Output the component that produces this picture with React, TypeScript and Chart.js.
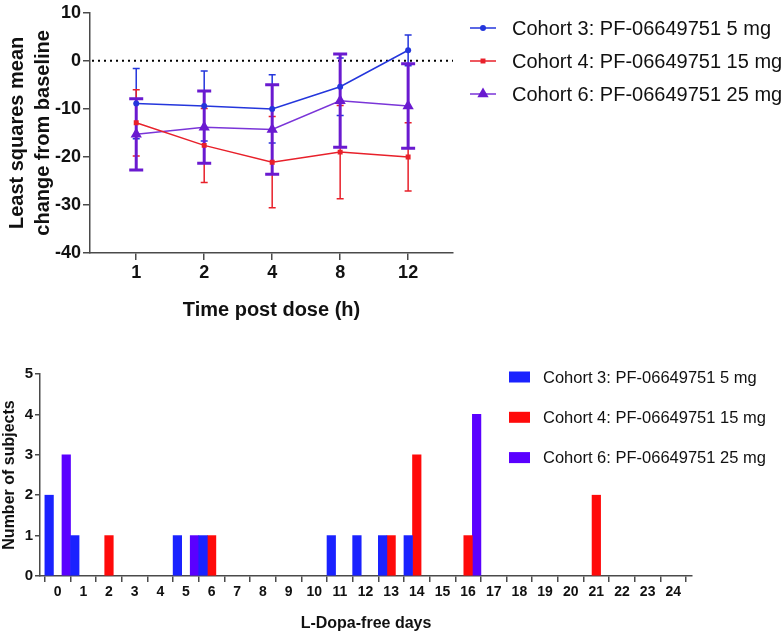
import React, { useEffect, useRef } from 'react';
import { Chart, registerables } from 'chart.js';

Chart.register(...registerables);

const FONT = '"Liberation Sans", Arial, Helvetica, sans-serif';

// ---------- Top chart data ----------
const timeLabels = ['1', '2', '4', '8', '12'];
const cohortNames = [
  'Cohort 3: PF-06649751 5 mg',
  'Cohort 4: PF-06649751 15 mg',
  'Cohort 6: PF-06649751 25 mg',
];
const cohort3Mean = [-8.9, -9.4, -10.0, -5.4, 2.2];
const cohort3Err = [7.3, 7.3, 7.1, 6.0, 3.2];
const cohort4Mean = [-12.9, -17.6, -21.1, -19.0, -20.0];
const cohort4Err = [6.9, 7.7, 9.5, 9.7, 7.1];
const cohort6Mean = [-15.3, -13.8, -14.3, -8.3, -9.4];
const cohort6Err = [7.4, 7.5, 9.3, 9.7, 8.8];
const topYTicks = [10, 0, -10, -20, -30, -40];

// ---------- Bottom chart data ----------
const dayTicks = [0, 1, 2, 3, 4, 5, 6, 7, 8, 9, 10, 11, 12, 13, 14, 15, 16, 17, 18, 19, 20, 21, 22, 23, 24];
const cohort3Days = [0, 1, 5, 6, 11, 12, 13, 14];
const cohort3Counts = [2, 1, 1, 1, 1, 1, 1, 1];
const cohort4Days = [2, 6, 13, 14, 16, 21];
const cohort4Counts = [1, 1, 1, 3, 1, 2];
const cohort6Days = [0, 5, 16];
const cohort6Counts = [3, 1, 4];
const bottomYTicks = [0, 1, 2, 3, 4, 5];

const TOP_COLORS = { c3: '#2436dc', c4: '#e8202a', c6: '#6a1ad0', c6line: '#7a35d8' };
const BAR_COLORS = { c3: '#1a22ff', c4: '#ff0a0a', c6: '#5a00ff' };

function drawMarker(ctx: CanvasRenderingContext2D, style: string, x: number, y: number, r: number, color: string) {
  ctx.save();
  ctx.fillStyle = color;
  ctx.beginPath();
  if (style === 'circle') {
    ctx.arc(x, y, r, 0, Math.PI * 2);
  } else if (style === 'rect') {
    const s = r * Math.SQRT1_2;
    ctx.rect(x - s, y - s, 2 * s, 2 * s);
  } else {
    let rad = 0;
    const step = (Math.PI * 2) / 3;
    ctx.moveTo(x + Math.sin(rad) * r, y - Math.cos(rad) * r);
    rad += step;
    ctx.lineTo(x + Math.sin(rad) * r, y - Math.cos(rad) * r);
    rad += step;
    ctx.lineTo(x + Math.sin(rad) * r, y - Math.cos(rad) * r);
    ctx.closePath();
  }
  ctx.fill();
  ctx.restore();
}

const errorSpecs = [
  { mean: cohort3Mean, err: cohort3Err, color: TOP_COLORS.c3, lw: 1.5, cap: 3.5 },
  { mean: cohort4Mean, err: cohort4Err, color: TOP_COLORS.c4, lw: 1.5, cap: 3.5 },
  { mean: cohort6Mean, err: cohort6Err, color: TOP_COLORS.c6, lw: 3, cap: 7 },
];

const topPlugin = {
  id: 'topDecor',
  beforeDatasetsDraw(chart: any) {
    const { ctx, chartArea, scales } = chart;
    const x = scales.x;
    const y = scales.y;
    // dotted zero line
    ctx.save();
    ctx.strokeStyle = '#000';
    ctx.lineWidth = 2;
    ctx.setLineDash([2, 4]);
    const y0 = y.getPixelForValue(0);
    ctx.beginPath();
    ctx.moveTo(chartArea.left + 2, y0);
    ctx.lineTo(chartArea.right, y0);
    ctx.stroke();
    ctx.restore();
    // error bars
    errorSpecs.forEach((s) => {
      ctx.save();
      ctx.strokeStyle = s.color;
      ctx.lineWidth = s.lw;
      s.mean.forEach((m, i) => {
        const px = x.getPixelForValue(i + 1);
        const top = y.getPixelForValue(m + s.err[i]);
        const bot = y.getPixelForValue(m - s.err[i]);
        ctx.beginPath();
        ctx.moveTo(px, top);
        ctx.lineTo(px, bot);
        ctx.moveTo(px - s.cap, top);
        ctx.lineTo(px + s.cap, top);
        ctx.moveTo(px - s.cap, bot);
        ctx.lineTo(px + s.cap, bot);
        ctx.stroke();
      });
      ctx.restore();
    });
  },
  afterDraw(chart: any) {
    const { ctx } = chart;
    const styles = ['circle', 'rect', 'triangle'];
    const radii = [3, 3.5, 6.5];
    const lineColors = [TOP_COLORS.c3, TOP_COLORS.c4, TOP_COLORS.c6line];
    const markColors = [TOP_COLORS.c3, TOP_COLORS.c4, TOP_COLORS.c6];
    cohortNames.forEach((name, i) => {
      const ry = 28 + i * 33;
      ctx.save();
      ctx.strokeStyle = lineColors[i];
      ctx.lineWidth = 1.5;
      ctx.beginPath();
      ctx.moveTo(470, ry);
      ctx.lineTo(496, ry);
      ctx.stroke();
      ctx.restore();
      drawMarker(ctx, styles[i], 483, ry, radii[i], markColors[i]);
      ctx.save();
      ctx.fillStyle = '#111';
      ctx.font = `20px ${FONT}`;
      ctx.textBaseline = 'middle';
      ctx.textAlign = 'left';
      ctx.fillText(name, 512, ry + 1);
      ctx.restore();
    });
  },
};

const bottomPlugin = {
  id: 'bottomLegend',
  afterDraw(chart: any) {
    const { ctx } = chart;
    const colors = [BAR_COLORS.c3, BAR_COLORS.c4, BAR_COLORS.c6];
    cohortNames.forEach((name, i) => {
      const ry = 47 + i * 40.3;
      ctx.save();
      ctx.fillStyle = colors[i];
      ctx.fillRect(509, ry - 5.5, 21, 11);
      ctx.fillStyle = '#111';
      ctx.font = `16.5px ${FONT}`;
      ctx.textBaseline = 'middle';
      ctx.textAlign = 'left';
      ctx.fillText(name, 543, ry + 1);
      ctx.restore();
    });
  },
};

const AXIS_COLOR = '#4a4a4a';

export default function App() {
  const topRef = useRef<HTMLCanvasElement>(null);
  const botRef = useRef<HTMLCanvasElement>(null);

  useEffect(() => {
    const topChart = new Chart(topRef.current as HTMLCanvasElement, {
      type: 'line',
      data: {
        datasets: [
          {
            label: cohortNames[0],
            data: cohort3Mean.map((v, i) => ({ x: i + 1, y: v })),
            borderColor: TOP_COLORS.c3,
            backgroundColor: TOP_COLORS.c3,
            borderWidth: 1.5,
            pointStyle: 'circle',
            pointRadius: 3,
            pointBorderWidth: 0,
            tension: 0,
          },
          {
            label: cohortNames[1],
            data: cohort4Mean.map((v, i) => ({ x: i + 1, y: v })),
            borderColor: TOP_COLORS.c4,
            backgroundColor: TOP_COLORS.c4,
            borderWidth: 1.5,
            pointStyle: 'rect',
            pointRadius: 3.5,
            pointBorderWidth: 0,
            tension: 0,
          },
          {
            label: cohortNames[2],
            data: cohort6Mean.map((v, i) => ({ x: i + 1, y: v })),
            borderColor: TOP_COLORS.c6line,
            backgroundColor: TOP_COLORS.c6,
            borderWidth: 1.5,
            pointStyle: 'triangle',
            pointRadius: 6.5,
            pointBorderWidth: 0,
            tension: 0,
          },
        ],
      },
      options: {
        animation: false,
        responsive: false,
        events: [],
        layout: { padding: { top: 11, right: 331, bottom: 0, left: 0 } },
        plugins: { legend: { display: false }, tooltip: { enabled: false } },
        scales: {
          x: {
            type: 'linear',
            min: 0.32,
            max: 5.66,
            afterBuildTicks: (axis: any) => {
              axis.ticks = timeLabels.map((_, i) => ({ value: i + 1 }));
            },
            afterFit: (s: any) => {
              s.height = 77;
            },
            ticks: {
              callback: (v: any) => timeLabels[Math.round(v) - 1] ?? '',
              font: { family: FONT, size: 18, weight: 'bold' },
              color: '#111',
              padding: 2,
              maxRotation: 0,
            },
            grid: { drawOnChartArea: false, drawTicks: true, tickLength: 7, color: AXIS_COLOR, lineWidth: 1.5 },
            border: { color: AXIS_COLOR, width: 1.5 },
            title: {
              display: true,
              text: 'Time post dose (h)',
              font: { family: FONT, size: 20, weight: 'bold', lineHeight: 1.3 },
              color: '#111',
              padding: { top: 0, bottom: 7 },
            },
          },
          y: {
            type: 'linear',
            min: -40,
            max: 10,
            afterBuildTicks: (axis: any) => {
              axis.ticks = topYTicks.map((v) => ({ value: v }));
            },
            afterFit: (s: any) => {
              s.width = 90;
            },
            ticks: {
              font: { family: FONT, size: 18, weight: 'bold' },
              color: '#111',
              padding: 2,
            },
            grid: { drawOnChartArea: false, drawTicks: true, tickLength: 7, color: AXIS_COLOR, lineWidth: 1.5 },
            border: { color: AXIS_COLOR, width: 1.5 },
            title: {
              display: true,
              text: ['Least squares mean', 'change from baseline'],
              font: { family: FONT, size: 20, weight: 'bold', lineHeight: 1.3 },
              color: '#111',
              padding: { top: 4, bottom: 0 },
            },
          },
        },
      },
      plugins: [topPlugin],
    } as any);

    const barDs = (label: string, days: number[], counts: number[], color: string) => ({
      label,
      data: days.map((d, i) => ({ x: d, y: counts[i] })),
      backgroundColor: color,
      borderWidth: 0,
      categoryPercentage: 1.0,
      barPercentage: 1.0,
    });

    const botChart = new Chart(botRef.current as HTMLCanvasElement, {
      type: 'bar',
      data: {
        datasets: [
          barDs(cohortNames[0], cohort3Days, cohort3Counts, BAR_COLORS.c3),
          barDs(cohortNames[1], cohort4Days, cohort4Counts, BAR_COLORS.c4),
          barDs(cohortNames[2], cohort6Days, cohort6Counts, BAR_COLORS.c6),
        ],
      },
      options: {
        animation: false,
        responsive: false,
        events: [],
        layout: { padding: { top: 44, right: 92, bottom: 0, left: 0 } },
        plugins: { legend: { display: false }, tooltip: { enabled: false } },
        scales: {
          x: {
            type: 'linear',
            min: -0.69,
            max: 24.73,
            offset: false,
            afterBuildTicks: (axis: any) => {
              axis.ticks = dayTicks.map((v) => ({ value: v }));
            },
            afterFit: (s: any) => {
              s.height = 59;
            },
            ticks: {
              callback: (v: any) => String(v),
              font: { family: FONT, size: 14, weight: 'bold' },
              color: '#111',
              padding: 2,
              maxRotation: 0,
              autoSkip: false,
            },
            grid: { drawOnChartArea: false, drawTicks: true, tickLength: 6, color: AXIS_COLOR, lineWidth: 1.5 },
            border: { color: AXIS_COLOR, width: 1.5 },
            title: {
              display: true,
              text: 'L-Dopa-free days',
              font: { family: FONT, size: 16, weight: 'bold', lineHeight: 1.2 },
              color: '#111',
              padding: { top: 0, bottom: 2 },
            },
          },
          y: {
            type: 'linear',
            min: 0,
            max: 5,
            afterBuildTicks: (axis: any) => {
              axis.ticks = bottomYTicks.map((v) => ({ value: v }));
            },
            afterFit: (s: any) => {
              s.width = 40;
            },
            ticks: {
              font: { family: FONT, size: 15, weight: 'bold' },
              color: '#111',
              padding: 2,
            },
            grid: { drawOnChartArea: false, drawTicks: true, tickLength: 5, color: AXIS_COLOR, lineWidth: 1.5 },
            border: { color: AXIS_COLOR, width: 1.5 },
            title: {
              display: true,
              text: 'Number of subjects',
              font: { family: FONT, size: 16, weight: 'bold', lineHeight: 1.2 },
              color: '#111',
              padding: { top: 0, bottom: 0 },
            },
          },
        },
      },
      plugins: [bottomPlugin],
    } as any);

    return () => {
      topChart.destroy();
      botChart.destroy();
    };
  }, []);

  return (
    <div style={{ position: 'fixed', left: 0, top: 0, width: 784, height: 635, background: '#fff' }}>
      <canvas ref={topRef} width={784} height={330} style={{ display: 'block', width: 784, height: 330 }} />
      <canvas ref={botRef} width={784} height={305} style={{ display: 'block', width: 784, height: 305 }} />
    </div>
  );
}
